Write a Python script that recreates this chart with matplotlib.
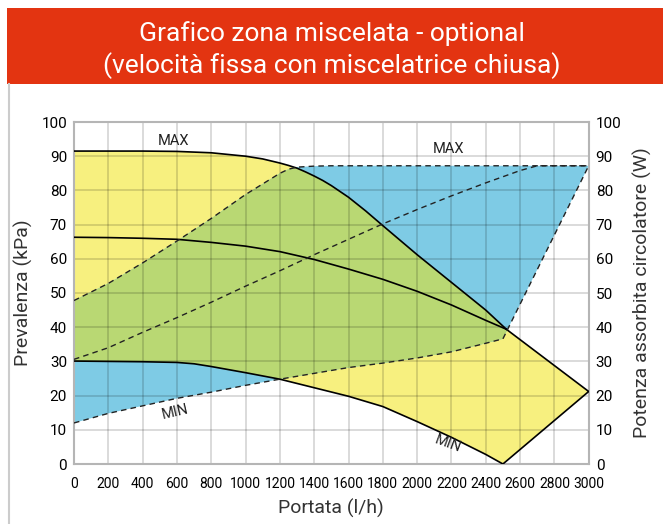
#!/usr/bin/env python3

import numpy as np
import matplotlib.pyplot as plt
from matplotlib.patches import Polygon, Rectangle
from matplotlib.lines import Line2D

plt.rcParams['font.family'] = ['Roboto', 'DejaVu Sans']

# head curves (kPa) vs flow (l/h)
max_head_x = [0, 200, 400, 600, 800, 1000, 1100, 1200, 1250, 1300, 1350, 1400, 1450, 1500, 1600, 1700, 1800, 2000, 2200, 2400, 2520]
max_head_y = [91.5, 91.5, 91.5, 91.4, 91.0, 90.0, 89.2, 88.0, 87.3, 86.5, 85.4, 84.2, 82.9, 81.4, 78.0, 74.0, 69.7, 61.2, 53.1, 45.0, 39.4]
mid_head_x = [0, 200, 400, 600, 800, 1000, 1200, 1400, 1600, 1800, 2000, 2200, 2400, 2520]
mid_head_y = [66.3, 66.2, 66.0, 65.7, 64.8, 63.7, 62.1, 59.8, 57.0, 54.0, 50.5, 46.5, 42.0, 39.4]
min_head_x = [0, 200, 400, 600, 700, 800, 1000, 1200, 1400, 1600, 1800, 2000, 2200, 2400, 2500]
min_head_y = [30.1, 30.0, 29.9, 29.7, 29.3, 28.5, 26.7, 24.8, 22.3, 19.8, 16.8, 12.4, 7.8, 2.8, 0.0]
tail_x = [2520, 3000, 2500]        # closing edge of the head field
tail_y = [39.4, 21.2, 0.0]

# absorbed power curves (W) vs flow (l/h)
max_pow_x = [0, 200, 400, 600, 800, 1000, 1200, 1250, 1300, 1400, 1500, 3000]
max_pow_y = [47.8, 52.8, 58.8, 65.2, 71.8, 78.8, 85.0, 86.2, 86.8, 87.1, 87.2, 87.2]
mid_pow_x = [0, 200, 400, 600, 800, 1000, 1200, 1400, 1600, 1800, 2000, 2200, 2400, 2600, 2700, 3000]
mid_pow_y = [30.6, 34.0, 38.5, 42.8, 47.3, 52.0, 56.5, 61.2, 65.7, 70.2, 74.4, 78.4, 82.2, 85.8, 87.2, 87.2]
min_pow_x = [0, 200, 400, 600, 800, 1000, 1200, 1400, 1600, 1800, 2000, 2200, 2400, 2500]
min_pow_y = [12.0, 14.8, 17.0, 19.2, 21.0, 23.0, 24.8, 26.5, 28.2, 29.5, 31.0, 32.8, 35.3, 36.6]
edge_pow_x = [2500, 3000]
edge_pow_y = [36.6, 87.2]

x_ticks = list(range(0, 3001, 200))
y_ticks = list(range(0, 101, 10))

title_lines = ["Grafico zona miscelata - optional", "(velocità fissa con miscelatrice chiusa)"]

YELLOW = "#f7f07f"
BLUE = "#7ecbe5"
GREEN = "#b9d873"
RED = "#e33411"

fig = plt.figure(figsize=(6.63, 5.24), dpi=100)

# header banner
fig.patches.append(Rectangle((7 / 663, 1 - 84 / 524), 1, 76 / 524, transform=fig.transFigure,
                             facecolor=RED, edgecolor="none"))
fig.text(0.5, 1 - 34 / 524, title_lines[0], color="white", fontsize=19, ha="center", va="center")
fig.text(0.5, 1 - 66 / 524, title_lines[1], color="white", fontsize=19, ha="center", va="center")
fig.lines.append(Line2D([8.5 / 663, 8.5 / 663], [0, 1 - 84 / 524], transform=fig.transFigure,
                        color="#cccccc", lw=1.5))

ax = fig.add_axes([74 / 663, 1 - 464 / 524, 514.7 / 663, 342 / 524])

head_poly = list(zip(max_head_x, max_head_y)) + list(zip(tail_x[1:], tail_y[1:])) \
    + list(zip(min_head_x[::-1], min_head_y[::-1]))
pow_poly = list(zip(min_pow_x, min_pow_y)) + list(zip(edge_pow_x[1:], edge_pow_y[1:])) \
    + list(zip(max_pow_x[::-1], max_pow_y[::-1]))

p_head = Polygon(head_poly, closed=True, facecolor=YELLOW, edgecolor="none", zorder=1)
p_pow = Polygon(pow_poly, closed=True, facecolor=BLUE, edgecolor="none", zorder=1)
ax.add_patch(p_head)
ax.add_patch(p_pow)
p_both = Polygon(pow_poly, closed=True, facecolor=GREEN, edgecolor="none", zorder=1.1)
ax.add_patch(p_both)
p_both.set_clip_path(p_head)

# solid head curves
for xs, ys in [(max_head_x, max_head_y), (mid_head_x, mid_head_y), (min_head_x, min_head_y), (tail_x, tail_y)]:
    ax.plot(xs, ys, "-", color="black", lw=1.2, zorder=3)

# dashed power curves
for xs, ys in [(max_pow_x, max_pow_y), (mid_pow_x, mid_pow_y), (min_pow_x, min_pow_y), (edge_pow_x, edge_pow_y)]:
    ax.plot(xs, ys, color="#222222", lw=1.0, dashes=(4, 3), zorder=3)

ax.text(580, 94.3, "MAX", fontsize=10.5, ha="center", va="center", color="#222222")
ax.text(2185, 92.0, "MAX", fontsize=10.5, ha="center", va="center", color="#222222")
ax.text(590, 15.2, "MIN", fontsize=10.5, ha="center", va="center", color="#222222", rotation=13)
ax.text(2180, 6.0, "MIN", fontsize=10.5, ha="center", va="center", color="#222222", rotation=-20)

ax.set_xlim(0, 3000)
ax.set_ylim(0, 100)
ax.set_xticks(x_ticks)
ax.set_xticklabels([str(v) for v in x_ticks], fontsize=10)
ax.set_yticks(y_ticks)
ax.set_yticklabels([str(v) for v in y_ticks], fontsize=11)
ax.tick_params(axis="y", length=0, pad=5)
ax.tick_params(axis="x", length=0, pad=9)
ax.grid(True, color="black", alpha=0.17, lw=1.2)
for sp in ax.spines.values():
    sp.set_color("#b5b5b5")
    sp.set_linewidth(1.5)
ax.set_xlabel("Portata (l/h)", fontsize=14, color="#333333", labelpad=6)
ax.set_ylabel("Prevalenza (kPa)", fontsize=14, color="#333333", labelpad=6)

ax2 = ax.twinx()
ax2.set_ylim(0, 100)
ax2.set_yticks(y_ticks)
ax2.set_yticklabels([str(v) for v in y_ticks], fontsize=11)
ax2.tick_params(length=0, pad=5)
for sp in ax2.spines.values():
    sp.set_visible(False)
ax2.set_ylabel("Potenza assorbita circolatore (W)", fontsize=14, color="#333333", labelpad=8)

plt.savefig("out.png", dpi=100)
